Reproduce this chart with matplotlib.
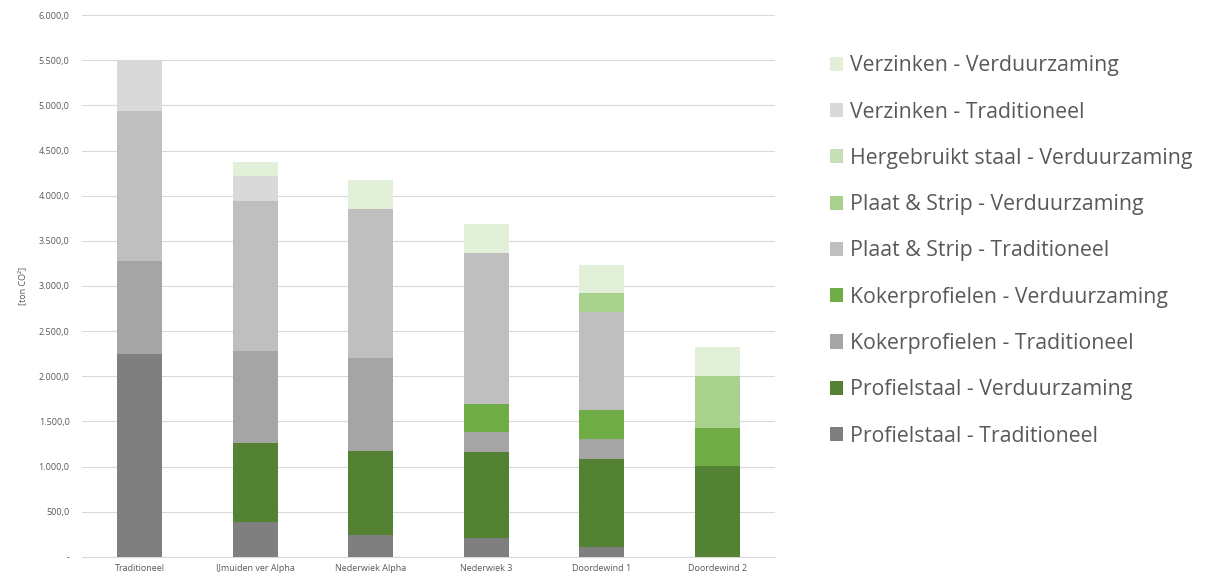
import numpy as np
from matplotlib import pyplot as plt
from matplotlib.patches import Patch
from matplotlib.ticker import FuncFormatter

plt.rcParams['font.family'] = ['Open Sans', 'DejaVu Sans']

projects = ['Traditioneel', 'IJmuiden ver Alpha', 'Nederwiek Alpha',
            'Nederwiek 3', 'Doordewind 1', 'Doordewind 2']

# stacked from bottom to top, values in ton CO2
profiel_trad = [2250, 390, 240, 210, 107, 0]
profiel_verd = [0, 867, 937, 952, 978, 1011]
koker_trad = [1030, 1018, 1023, 218, 221, 0]
koker_verd = [0, 0, 0, 317, 325, 417]
plaat_trad = [1660, 1665, 1655, 1668, 1081, 0]
plaat_verd = [0, 0, 0, 0, 207, 572]
hergebruikt_verd = [0, 0, 0, 0, 0, 0]
verzinken_trad = [560, 280, 0, 0, 0, 0]
verzinken_verd = [0, 150, 315, 321, 317, 325]

series = [
    ('Profielstaal - Traditioneel', profiel_trad, '#7f7f7f'),
    ('Profielstaal - Verduurzaming', profiel_verd, '#548235'),
    ('Kokerprofielen - Traditioneel', koker_trad, '#a5a5a5'),
    ('Kokerprofielen - Verduurzaming', koker_verd, '#70ad47'),
    ('Plaat & Strip - Traditioneel', plaat_trad, '#bfbfbf'),
    ('Plaat & Strip - Verduurzaming', plaat_verd, '#a9d18e'),
    ('Hergebruikt staal - Verduurzaming', hergebruikt_verd, '#c5e0b4'),
    ('Verzinken - Traditioneel', verzinken_trad, '#d9d9d9'),
    ('Verzinken - Verduurzaming', verzinken_verd, '#e2efd9'),
]

txt = '#595959'

fig = plt.figure(figsize=(12.07, 5.8), dpi=100)
ax = fig.add_axes([0.068, 0.040, 0.574, 0.934])

x = np.arange(len(projects))
bottom = np.zeros(len(projects))
handles = []
for name, vals, col in series:
    vals = np.array(vals, dtype=float)
    ax.bar(x, vals, 0.39, bottom=bottom, color=col, zorder=3)
    bottom += vals
    handles.append(Patch(facecolor=col, label=name))

ax.set_xlim(-0.5, len(projects) - 0.5)
ax.set_ylim(0, 6000)
ax.set_yticks(np.arange(0, 6001, 500))

def fmt(v, pos):
    if v == 0:
        return '-'
    s = f'{v:,.1f}'
    return s.replace(',', 'X').replace('.', ',').replace('X', '.')

ax.yaxis.set_major_formatter(FuncFormatter(fmt))
ax.set_xticks(x)
ax.set_xticklabels(projects)
ax.tick_params(axis='both', length=0, labelsize=6.5, colors=txt)
ax.tick_params(axis='y', pad=9)
ax.tick_params(axis='x', pad=5)
ax.grid(axis='y', color='#d9d9d9', linewidth=0.8, zorder=0)
for s in ['top', 'right', 'left']:
    ax.spines[s].set_visible(False)
ax.spines['bottom'].set_color('#d9d9d9')
ax.set_ylabel('[ton CO²]', fontsize=6.5, color=txt, labelpad=8)

leg = fig.legend(handles=handles[::-1], loc='upper left',
                 bbox_to_anchor=(0.6785, 0.923), frameon=False,
                 fontsize=15.3, handlelength=0.65, handleheight=0.65,
                 handletextpad=0.3, labelspacing=1.19, borderpad=0)
for t in leg.get_texts():
    t.set_color(txt)

fig.savefig('out.png', dpi=100)
